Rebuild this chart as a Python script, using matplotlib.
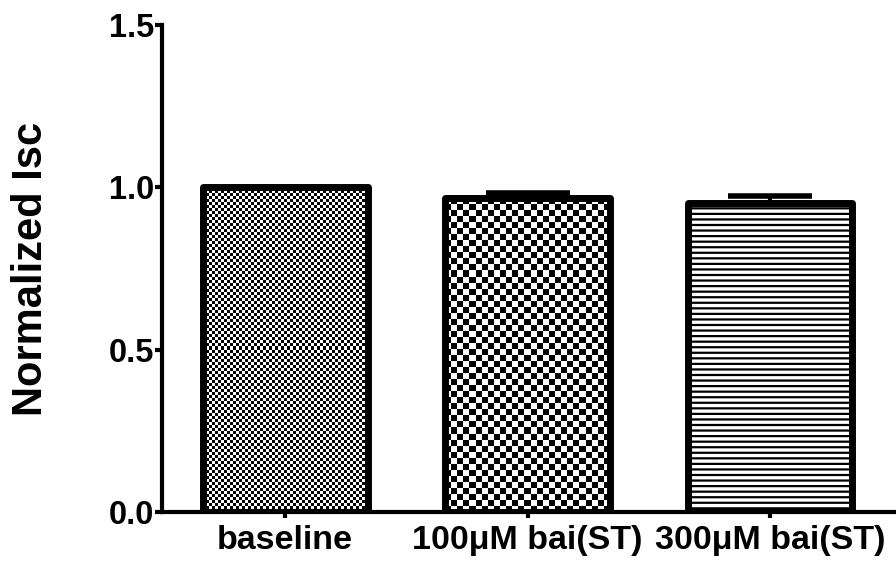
import numpy as np
import matplotlib
matplotlib.use('Agg')
import matplotlib.pyplot as plt

# chart data
categories = ['baseline', '100\u03bcM bai(ST)', '300\u03bcM bai(ST)']
values = [1.0, 0.966, 0.952]
sem = [0.0, 0.017, 0.021]
ylabel = 'Normalized Isc'
yticks = [0.0, 0.5, 1.0, 1.5]

plt.rcParams['font.family'] = ['Liberation Sans', 'DejaVu Sans']
plt.rcParams['font.weight'] = 'bold'
plt.rcParams['hatch.linewidth'] = 1.6

fig = plt.figure(figsize=(8.96, 5.66), dpi=100)
ax = fig.add_axes([0.181, 0.0954, 0.819, 0.8604])

x = np.arange(len(categories))
width = 0.68

ax.set_xlim(-0.507, 2.52)
ax.set_ylim(0, 1.5)

# error bars (upper only), behind the bars
ax.errorbar(x, values, yerr=[np.zeros(len(sem)), sem], fmt='none',
            ecolor='black', elinewidth=3, capsize=30, capthick=4, zorder=1)

# white fill layer
fills = ax.bar(x, values, width, color='white', edgecolor='none', zorder=2)

# checkerboard fills for the first two bars, clipped to the bar shapes
def checker_fill(patch, cell_px):
    x0, y0 = patch.get_x(), patch.get_y()
    w, h = patch.get_width(), patch.get_height()
    p0 = ax.transData.transform((x0, y0))
    p1 = ax.transData.transform((x0 + w, y0 + h))
    nx = max(1, int(round(abs(p1[0] - p0[0]) / cell_px)))
    ny = max(1, int(round(abs(p1[1] - p0[1]) / cell_px)))
    grid = (np.add.outer(np.arange(ny), np.arange(nx)) % 2).astype(float)
    im = ax.imshow(grid, cmap='gray', vmin=0, vmax=1, interpolation='nearest',
                   extent=(x0, x0 + w, y0, y0 + h), aspect='auto', zorder=3,
                   origin='lower')
    im.set_clip_path(patch)

checker_fill(fills[0], 3.0)
checker_fill(fills[1], 6.0)

# outlines (third bar gets horizontal line hatch)
outlines = ax.bar(x, values, width, fill=False, edgecolor='black',
                  linewidth=5, zorder=4)
outlines[2].set_hatch('---')
for p in outlines:
    p.set_joinstyle('round')

ax.set_xlim(-0.507, 2.52)
ax.set_ylim(0, 1.5)

ax.spines['top'].set_visible(False)
ax.spines['right'].set_visible(False)
ax.spines['left'].set_linewidth(3)
ax.spines['bottom'].set_linewidth(3)
ax.spines['left'].set_zorder(5)
ax.spines['bottom'].set_zorder(5)

ax.set_yticks(yticks)
ax.set_yticklabels([f'{t:.1f}' for t in yticks], fontsize=23.5, fontweight='bold')
ax.set_xticks(x)
ax.set_xticklabels(categories, fontsize=24.5, fontweight='bold')
ax.tick_params(axis='y', direction='out', length=5, width=3, pad=1)
ax.tick_params(axis='x', direction='out', length=4.5, width=3, pad=5)

ax.set_ylabel(ylabel, fontsize=30, fontweight='bold')
ax.yaxis.set_label_coords(-0.152, 0.5)

fig.savefig('out.png', dpi=100)
